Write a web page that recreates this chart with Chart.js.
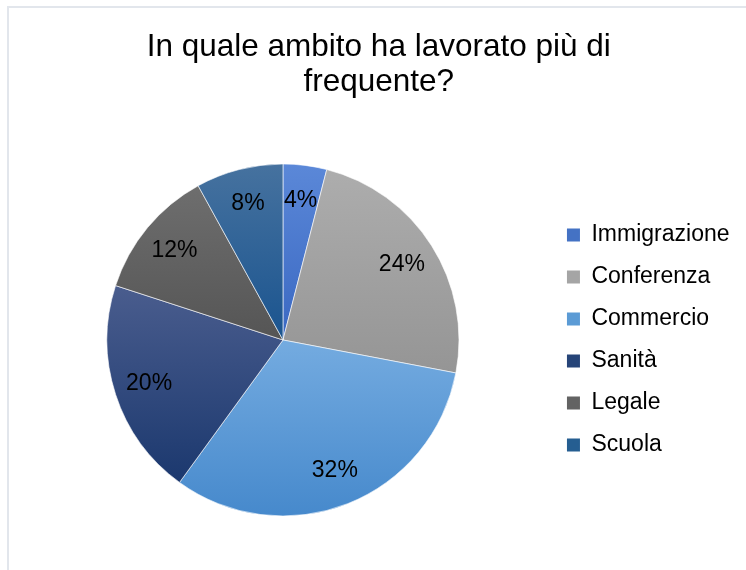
<!DOCTYPE html>
<html>
<head>
<meta charset="utf-8">
<script src="https://cdn.jsdelivr.net/npm/chart.js@4.4.1/dist/chart.umd.min.js"></script>
<style>
  html, body { margin: 0; padding: 0; background: #fff; overflow: hidden; }
  #frame { position: absolute; left: 7px; top: 6px; width: 760px; height: 580px; border-left: 2px solid #e2e6ec; border-top: 2px solid #e2e6ec; }
  #chart { position: absolute; left: 0; top: 0; }
</style>
</head>
<body>
<div id="frame"></div>
<canvas id="chart" width="746" height="570"></canvas>
<script>
const titleLines = ['In quale ambito ha lavorato più di', 'frequente?'];
const categories = ['Immigrazione', 'Conferenza', 'Commercio', 'Sanità', 'Legale', 'Scuola'];
const shares = [4, 24, 32, 20, 12, 8];

// flat colours for the legend, light/dark ends for the slice gradients
const baseColors = ['#4472c4', '#a5a5a5', '#5b9bd5', '#264478', '#636363', '#255e91'];
const lightColors = ['#5b88d8', '#adadad', '#74abe0', '#4a5d8e', '#6e6e6e', '#46729f'];
const darkColors = ['#3a68c2', '#959595', '#4689cc', '#1b386e', '#555555', '#1a548f'];

const fontFamily = '"Liberation Sans", Arial, sans-serif';

// vertical gradient spanning each slice's own height
function sliceFill(ctx) {
  const chart = ctx.chart;
  const area = chart.chartArea;
  const i = ctx.dataIndex;
  if (!area || i === undefined) return baseColors[i || 0];
  const cx = (area.left + area.right) / 2;
  const cy = (area.top + area.bottom) / 2;
  const r = Math.min(area.right - area.left, area.bottom - area.top) / 2;
  const total = shares.reduce((a, b) => a + b, 0);
  const before = shares.slice(0, i).reduce((a, b) => a + b, 0);
  const a0 = -Math.PI / 2 + 2 * Math.PI * before / total;
  const a1 = a0 + 2 * Math.PI * shares[i] / total;
  const ys = [cy, cy + r * Math.sin(a0), cy + r * Math.sin(a1)];
  if (Math.PI / 2 > a0 && Math.PI / 2 < a1) ys.push(cy + r);
  const g = chart.ctx.createLinearGradient(0, Math.min(...ys), 0, Math.max(...ys));
  g.addColorStop(0, lightColors[i]);
  g.addColorStop(1, darkColors[i]);
  return g;
}

// percentage text inside each slice
const sliceLabels = {
  id: 'sliceLabels',
  afterDatasetsDraw(chart) {
    const c = chart.ctx;
    const meta = chart.getDatasetMeta(0);
    c.save();
    c.font = '23px ' + fontFamily;
    c.fillStyle = '#000';
    c.textAlign = 'center';
    c.textBaseline = 'middle';
    meta.data.forEach((arc, i) => {
      const p = arc.getProps(['x', 'y', 'startAngle', 'endAngle', 'outerRadius'], true);
      const mid = (p.startAngle + p.endAngle) / 2;
      const d = p.outerRadius * 0.8;
      c.fillText(shares[i] + '%', p.x + Math.cos(mid) * d, p.y + Math.sin(mid) * d);
    });
    c.restore();
  }
};

new Chart(document.getElementById('chart'), {
  type: 'pie',
  data: {
    labels: categories,
    datasets: [{
      data: shares,
      backgroundColor: sliceFill,
      borderColor: 'rgba(255,255,255,0.6)',
      borderWidth: 1
    }]
  },
  options: {
    responsive: false,
    animation: false,
    layout: { padding: { left: 18, right: 6.5, top: 0, bottom: 53.5 } },
    plugins: {
      title: {
        display: true,
        text: titleLines,
        color: '#000',
        font: { family: fontFamily, size: 31.5, weight: 'normal', lineHeight: 1.111 },
        padding: { top: 30.3, bottom: 63.2 }
      },
      legend: {
        position: 'right',
        fullSize: false,
        labels: {
          color: '#000',
          font: { family: fontFamily, size: 23, lineHeight: 1 },
          boxWidth: 13,
          boxHeight: 13,
          padding: 19,
          generateLabels: () => categories.map((name, i) => ({
            text: name,
            fillStyle: baseColors[i],
            strokeStyle: baseColors[i],
            lineWidth: 0,
            hidden: false,
            index: i,
            fontColor: '#000'
          }))
        }
      },
      tooltip: { enabled: false }
    }
  },
  plugins: [sliceLabels]
});
</script>
</body>
</html>
